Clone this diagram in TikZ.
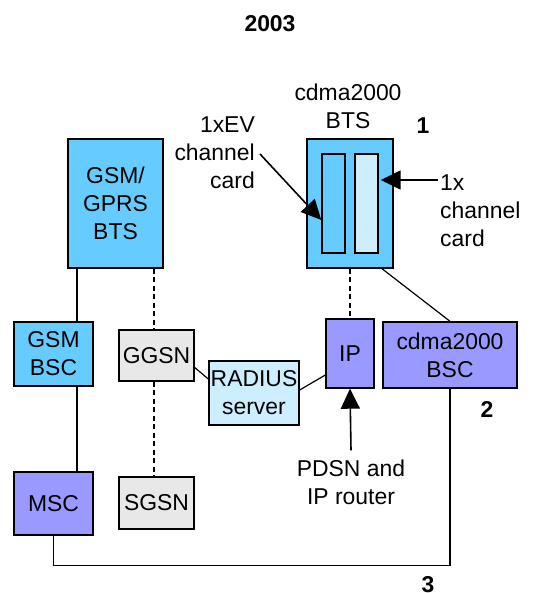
\documentclass[tikz,border=0pt]{standalone}
\usepackage{fontspec}
\setmainfont{Liberation Sans}
\usetikzlibrary{calc, arrows.meta}

\definecolor{btsBlue}{HTML}{66CCFF}
\definecolor{cardBlue}{HTML}{CCEEFF}
\definecolor{netPurple}{HTML}{9999FF}
\definecolor{coreGray}{HTML}{E8E8E8}

\begin{document}
\begin{tikzpicture}[x=1bp, y=-1bp, inner sep=2bp,
    >={Triangle[width=19bp, length=20bp]},
    font=\fontsize{23}{28}\selectfont,
    box/.style={draw, line width=1.4bp, inner sep=1bp, align=center},
    link/.style={line width=1.2bp},
    dashlink/.style={line width=1.2bp, dash pattern=on 5bp off 3.5bp},
    pointer/.style={->, line width=1.6bp},
    tag/.style={font=\fontsize{23}{28}\selectfont\bfseries}]

\useasboundingbox (0,0) rectangle (547,593);

% --- 1. TITLE ---
\node (title) [tag] at (270,24) {2003};

% --- 2. BASE STATIONS (Top) ---
\node (gsmbts) [box, fill=btsBlue, minimum width=95bp, minimum height=129bp] at (115.5,203.5) {GSM/\\GPRS\\BTS};

% cdma2000 BTS with its two channel cards
\node (cdmabts) [box, fill=btsBlue, minimum width=86bp, minimum height=129bp] at (350,203.5) {};
\node (evcard) [box, fill=btsBlue, minimum width=23bp, minimum height=99bp] at (333.5,203.5) {};
\node (xcard) [box, fill=cardBlue, minimum width=23bp, minimum height=99bp] at (366.5,203.5) {};
\node (btslabel) [align=center] at (348,106) {cdma2000\\BTS};
\node (one) [tag] at (423,126) {1};

% Card annotations
\node (evlabel) [align=right, anchor=east] at (257,153) {1xEV\\channel\\card};
\node (xlabel) [align=left, anchor=west] at (438,211) {1x\\channel\\card};
\coordinate (xtip) at ($(xcard.east)+(2,-23.5)$);
\draw[pointer] ([xshift=3bp, yshift=-1bp]evlabel.east) -- ($(evcard.west)+(0,16.5)$);
\draw[pointer] (xtip -| xlabel.west) -- (xtip);

% --- 3. CONTROLLERS AND CORE NODES ---
\node (gsmbsc) [box, fill=btsBlue, minimum width=79bp, minimum height=64bp] at (53.5,354) {GSM\\BSC};
\node (ggsn) [box, fill=coreGray, minimum width=75bp, minimum height=51bp] at (156.5,355.5) {GGSN};
\node (radius) [box, fill=cardBlue, minimum width=90bp, minimum height=64bp] at (254,393) {RADIUS\\server};
\node (ip) [box, fill=netPurple, minimum width=48bp, minimum height=69bp] at (350,353.5) {IP};
\node (cdmabsc) [box, fill=netPurple, minimum width=134bp, minimum height=66bp] at (450,355) {cdma2000\\BSC};
\node (msc) [box, fill=netPurple, minimum width=79bp, minimum height=63bp] at (53.5,503.5) {MSC};
\node (sgsn) [box, fill=coreGray, minimum width=75bp, minimum height=52bp] at (156.5,503) {SGSN};
\node (two) [tag] at (487,409) {2};
\node (three) [tag] at (428,585) {3};
\node (pdsn) [align=center] at (351,482) {PDSN and\\IP router};

% --- 4. CONNECTIONS ---
\coordinate (gsmtrunk) at (77,0);
\coordinate (gprstrunk) at (154,0);
\draw[link] (gsmbts.south -| gsmtrunk) -- (gsmbsc.north -| gsmtrunk);
\draw[link] (gsmbsc.south -| gsmtrunk) -- (msc.north -| gsmtrunk);
\draw[dashlink] (gsmbts.south -| gprstrunk) -- (ggsn.north -| gprstrunk);
\draw[dashlink] (ggsn.south -| gprstrunk) -- (sgsn.north -| gprstrunk);
\draw[link] ($(ggsn.east)+(0,12)$) -- ($(radius.west)+(0,-14)$);
\draw[link] ($(radius.east)+(0,-3)$) -- ($(ip.west)+(0,21.5)$);
\draw[dashlink] (cdmabts.south) -- (ip.north);
\draw[link] ($(cdmabts.south)+(32,0)$) -- (cdmabsc.north);
\draw[link] (msc.south) -- ++(0,30) -| (cdmabsc.south);
\draw[pointer] ([yshift=7bp]pdsn.north) -- (ip.south);

\end{tikzpicture}
\end{document}
